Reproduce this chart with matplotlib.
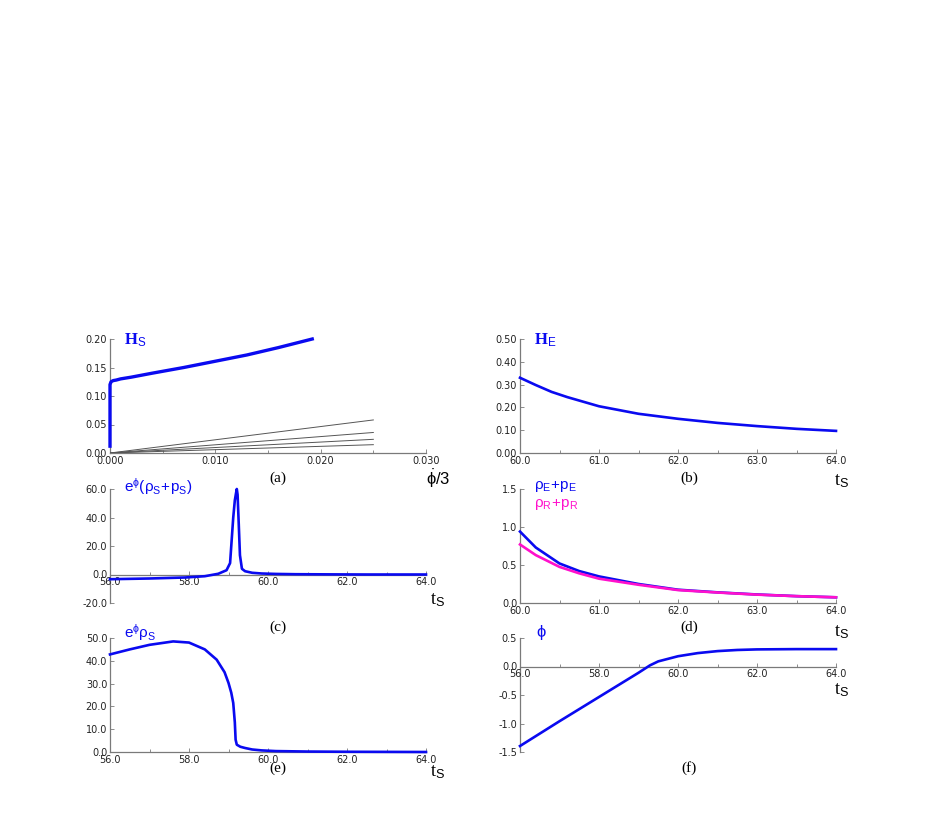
import numpy as np
import matplotlib.pyplot as plt
from matplotlib.ticker import MultipleLocator, FormatStrFormatter

# ---- data ----
# (a) H_S against phi-dot/3
a_x = [0.0, 0.0, 0.0, 0.0, 0.0001, 0.0003, 0.0006, 0.001, 0.002, 0.004, 0.007, 0.010, 0.013, 0.016, 0.0192]
a_y = [0.012, 0.05, 0.10, 0.120, 0.125, 0.127, 0.128, 0.130, 0.133, 0.140, 0.150, 0.161, 0.172, 0.185, 0.200]
grey_x = [0.0, 0.025]
grey_ends = [0.058, 0.036, 0.024, 0.0146]

# (b) H_E
b_t = [60.0, 60.2, 60.4, 60.6, 61.0, 61.5, 62.0, 62.5, 63.0, 63.5, 64.0]
b_h = [0.330, 0.298, 0.268, 0.245, 0.205, 0.172, 0.150, 0.132, 0.118, 0.106, 0.097]

# (c) e^phi (rho_S + p_S)
c_t = [56.0, 57.0, 57.9, 58.4, 58.74, 58.95, 59.04, 59.12, 59.16, 59.19, 59.21,
       59.23, 59.26, 59.29, 59.34, 59.42, 59.6, 59.84, 60.2, 60.7, 61.5, 62.5, 64.0]
c_v = [-3.3, -2.8, -2.1, -1.2, 0.5, 3.0, 8.0, 40.0, 52.0, 57.0, 60.0,
       56.0, 35.0, 13.5, 4.0, 2.3, 1.2, 0.7, 0.4, 0.2, 0.1, 0.0, 0.0]

# (d) rho_E + p_E and rho_R + p_R
d_t = [60.0, 60.2, 60.5, 60.75, 61.0, 61.5, 62.0, 62.5, 63.0, 63.5, 64.0]
d_e = [0.94, 0.73, 0.52, 0.42, 0.35, 0.25, 0.175, 0.14, 0.112, 0.09, 0.075]
d_r = [0.77, 0.63, 0.475, 0.39, 0.32, 0.24, 0.17, 0.138, 0.11, 0.09, 0.075]

# (e) e^phi rho_S
e_t = [56.0, 56.5, 57.0, 57.6, 58.0, 58.4, 58.7, 58.9, 59.0, 59.07, 59.12, 59.16,
       59.18, 59.21, 59.3, 59.42, 59.6, 59.84, 60.2, 61.0, 62.0, 64.0]
e_v = [42.8, 45.0, 47.0, 48.5, 48.0, 45.0, 40.5, 35.0, 30.3, 26.0, 21.5, 13.0,
       5.4, 3.2, 2.3, 1.75, 1.1, 0.7, 0.4, 0.2, 0.1, 0.0]

# (f) phi
f_t = [56.0, 57.0, 58.0, 59.0, 59.29, 59.5, 60.0, 60.5, 61.0, 61.5, 62.0, 63.0, 64.0]
f_phi = [-1.395, -0.96, -0.535, -0.11, 0.02, 0.09, 0.18, 0.235, 0.27, 0.29, 0.30, 0.305, 0.305]

BLUE = '#0a0af0'
PINK = '#ff10cc'
GREY = '#7a7a7a'
W, H = 926, 817

plt.rcParams['mathtext.fontset'] = 'custom'
plt.rcParams['mathtext.rm'] = 'Liberation Serif'
plt.rcParams['mathtext.bf'] = 'Liberation Serif:bold'
plt.rcParams['mathtext.sf'] = 'Liberation Sans'
plt.rcParams['mathtext.it'] = 'Liberation Serif:italic'
plt.rcParams['mathtext.fallback'] = 'stix'

fig = plt.figure(figsize=(W / 100, H / 100), dpi=100)


def make_ax(left, bottom_px, top_px):
    # pixel box -> figure fraction
    return fig.add_axes([left / W, 1 - bottom_px / H, 316 / W, (bottom_px - top_px) / H])


def style(ax, xlim, ylim, xmaj, ymaj, xfmt, yfmt, zero_spine=False):
    ax.set_xlim(*xlim)
    ax.set_ylim(*ylim)
    for s in ['top', 'right']:
        ax.spines[s].set_visible(False)
    for s in ['left', 'bottom']:
        ax.spines[s].set_color(GREY)
        ax.spines[s].set_linewidth(0.9)
        ax.spines[s].set_zorder(1)
    if zero_spine:
        ax.spines['bottom'].set_position(('data', 0))
    ax.xaxis.set_major_locator(MultipleLocator(xmaj))
    ax.xaxis.set_minor_locator(MultipleLocator(xmaj / 2))
    ax.yaxis.set_major_locator(MultipleLocator(ymaj))
    ax.xaxis.set_major_formatter(FormatStrFormatter(xfmt))
    ax.yaxis.set_major_formatter(FormatStrFormatter(yfmt))
    ax.tick_params(which='both', direction='in', color=GREY, width=0.6,
                   labelsize=7, labelcolor='#222222')
    ax.tick_params(which='major', length=3, pad=2)
    ax.tick_params(which='minor', length=2)
    ax.tick_params(axis='y', which='minor', length=0)


def curve(ax, x, y, color=BLUE, lw=1.9):
    ax.plot(x, y, color=color, lw=lw, zorder=3, clip_on=False)


def label(x, y, s, color=BLUE, size=11, ha='left'):
    fig.text(x / W, 1 - y / H, s, color=color, fontsize=size, ha=ha, va='center',
             family='Liberation Serif')


# (a)
ax = make_ax(110, 453, 339)
style(ax, (0, 0.03), (0, 0.2), 0.01, 0.05, '%.3f', '%.2f')
for g in grey_ends:
    ax.plot(grey_x, [0.0, g], color='#555555', lw=0.7)
curve(ax, a_x, a_y, lw=2.4)

# (b)
ax = make_ax(520, 453, 339)
style(ax, (60, 64), (0, 0.5), 1.0, 0.1, '%.1f', '%.2f')
curve(ax, b_t, b_h)

# (c)
ax = make_ax(110, 603, 489)
style(ax, (56, 64), (-20, 60), 2.0, 20, '%.1f', '%.1f', zero_spine=True)
curve(ax, c_t, c_v)

# (d)
ax = make_ax(520, 603, 489)
style(ax, (60, 64), (0, 1.5), 1.0, 0.5, '%.1f', '%.1f')
curve(ax, d_t, d_e)
curve(ax, d_t, d_r, color=PINK)

# (e)
ax = make_ax(110, 752, 638)
style(ax, (56, 64), (0, 50), 2.0, 10, '%.1f', '%.1f')
curve(ax, e_t, e_v)

# (f)
ax = make_ax(520, 752, 638)
style(ax, (56, 64), (-1.5, 0.5), 2.0, 0.5, '%.1f', '%.1f', zero_spine=True)
curve(ax, f_t, f_phi)

# curve labels
label(124, 340, r'$\mathbf{H}_{\mathsf{S}}$', size=12)
label(534, 340, r'$\mathbf{H}_{\mathsf{E}}$', size=12)
label(124, 487, r'$\mathsf{e^{\phi}(\rho_S\!+\!p_S)}$', size=11)
label(534, 487, r'$\mathsf{\rho_E\!+\!p_E}$', size=11)
label(534, 504, r'$\mathsf{\rho_R\!+\!p_R}$', color=PINK, size=11)
label(124, 633, r'$\mathsf{e^{\phi}\rho_S}$', size=11)
label(536, 633, r'$\mathsf{\phi}$', size=12)

# axis names
label(438, 479, r'$\mathsf{\dot{\phi}/3}$', color='black', ha='center', size=12)
for (x, y) in [(842, 481), (438, 600), (842, 632), (438, 772), (842, 690)]:
    label(x, y, r'$\mathrm{t}_{\mathsf{S}}$', color='black', ha='center', size=13)

# panel letters
for (x, y, s) in [(278, 478, '(a)'), (689, 478, '(b)'), (278, 627, '(c)'),
                  (689, 627, '(d)'), (278, 768, '(e)'), (689, 768, '(f)')]:
    fig.text(x / W, 1 - y / H, s, fontsize=11, ha='center', va='center',
             family='Liberation Serif')

plt.savefig('out.png', dpi=100)
